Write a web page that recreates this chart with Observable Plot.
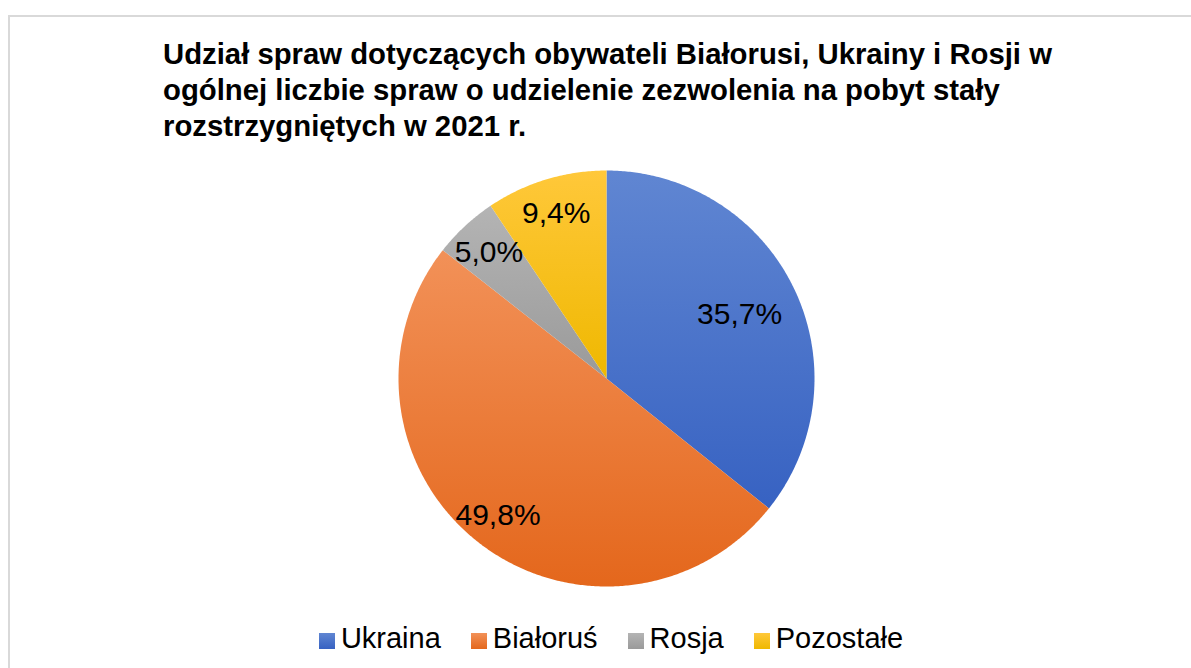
<!DOCTYPE html>
<html>
<head>
<meta charset="utf-8">
<script src="https://cdn.jsdelivr.net/npm/d3@7"></script>
<script src="https://cdn.jsdelivr.net/npm/@observablehq/plot@0.6"></script>
<style>
  html, body { margin: 0; padding: 0; background: #fff; }
  body { width: 1191px; height: 668px; position: relative; overflow: hidden;
         font-family: "Liberation Sans", Arial, sans-serif; }
  #frame { position: absolute; left: 8px; top: 15px; width: 1300px; height: 800px;
           border-top: 2px solid #d9d9d9; border-left: 2px solid #d9d9d9; box-sizing: border-box; }
  #title { position: absolute; left: 163px; top: 36px; font-weight: bold; font-size: 29.3px;
           line-height: 36px; color: #000; white-space: nowrap; }
  #chart { position: absolute; left: 0; top: 143px; }
  #legend { position: absolute; left: 0; top: 618px; width: 1222px; display: flex;
            justify-content: center; font-size: 29px; line-height: 40px; color: #000; }
  .item { display: flex; align-items: center; margin: 0 15px; }
  .sw { width: 16px; height: 16px; margin-right: 6px; margin-top: 5px; }
</style>
</head>
<body>
<div id="frame"></div>
<div id="title"></div>
<div id="chart"></div>
<div id="legend"></div>
<script>
const titleLines = [
  "Udział spraw dotyczących obywateli Białorusi, Ukrainy i Rosji w",
  "ogólnej liczbie spraw o udzielenie zezwolenia na pobyt stały",
  "rozstrzygniętych w 2021 r."
];
const categories = ["Ukraina", "Białoruś", "Rosja", "Pozostałe"];
const shares = [35.7, 49.8, 5.0, 9.4];
const labels = ["35,7%", "49,8%", "5,0%", "9,4%"];
const colorTop = ["#6086d2", "#f29158", "#b4b4b4", "#ffc83a"];
const colorBottom = ["#3762c2", "#e4671c", "#9a9a9a", "#efb800"];

document.getElementById("title").innerHTML = titleLines.join("<br>");

const total = d3.sum(shares);
let acc = 0;
const slices = categories.map((name, i) => {
  const a0 = acc / total * 2 * Math.PI;
  acc += shares[i];
  const a1 = acc / total * 2 * Math.PI;
  return {name, i, a0, a1, label: labels[i]};
});

// polygon points for each slice (angles clockwise from 12 o'clock)
const slicePoints = slices.map(s => {
  const pts = [{x: 0, y: 0, name: s.name}];
  const n = Math.max(8, Math.ceil((s.a1 - s.a0) / (Math.PI / 360)));
  for (let k = 0; k <= n; k++) {
    const t = s.a0 + (s.a1 - s.a0) * k / n;
    pts.push({x: Math.sin(t), y: Math.cos(t), name: s.name});
  }
  pts.push({x: 0, y: 0, name: s.name});
  return pts;
});

const labelRadius = [0.71, 0.84, 0.83, 0.83];
const labelData = slices.map(s => {
  const m = (s.a0 + s.a1) / 2;
  const r = labelRadius[s.i];
  return {x: Math.sin(m) * r, y: Math.cos(m) * r, label: s.label};
});

const plot = Plot.plot({
  width: 1191,
  height: 467,
  marginLeft: 398,
  marginRight: 377,
  marginTop: 27,
  marginBottom: 24,
  x: {domain: [-1, 1], axis: null},
  y: {domain: [-1, 1], axis: null},
  marks: [
    ...slicePoints.map((pts, i) => Plot.line(pts, {
      x: "x", y: "y", fill: `url(#grad${i})`, stroke: "none", curve: "linear"
    })),
    Plot.text(labelData, {
      x: "x", y: "y", text: "label", fontSize: 30, fill: "#000",
      fontFamily: "Liberation Sans, Arial, sans-serif"
    })
  ]
});

const svgns = "http://www.w3.org/2000/svg";
const defs = document.createElementNS(svgns, "defs");
categories.forEach((c, i) => {
  const g = document.createElementNS(svgns, "linearGradient");
  g.setAttribute("id", `grad${i}`);
  g.setAttribute("x1", "0"); g.setAttribute("y1", "0");
  g.setAttribute("x2", "0"); g.setAttribute("y2", "1");
  [[0, colorTop[i]], [1, colorBottom[i]]].forEach(([o, col]) => {
    const st = document.createElementNS(svgns, "stop");
    st.setAttribute("offset", o);
    st.setAttribute("stop-color", col);
    g.appendChild(st);
  });
  defs.appendChild(g);
});
plot.insertBefore(defs, plot.firstChild);
document.getElementById("chart").appendChild(plot);

const legend = document.getElementById("legend");
categories.forEach((c, i) => {
  const item = document.createElement("div");
  item.className = "item";
  const sw = document.createElement("div");
  sw.className = "sw";
  sw.style.background = `linear-gradient(${colorTop[i]}, ${colorBottom[i]})`;
  const tx = document.createElement("span");
  tx.textContent = c;
  item.appendChild(sw); item.appendChild(tx);
  legend.appendChild(item);
});
</script>
</body>
</html>
